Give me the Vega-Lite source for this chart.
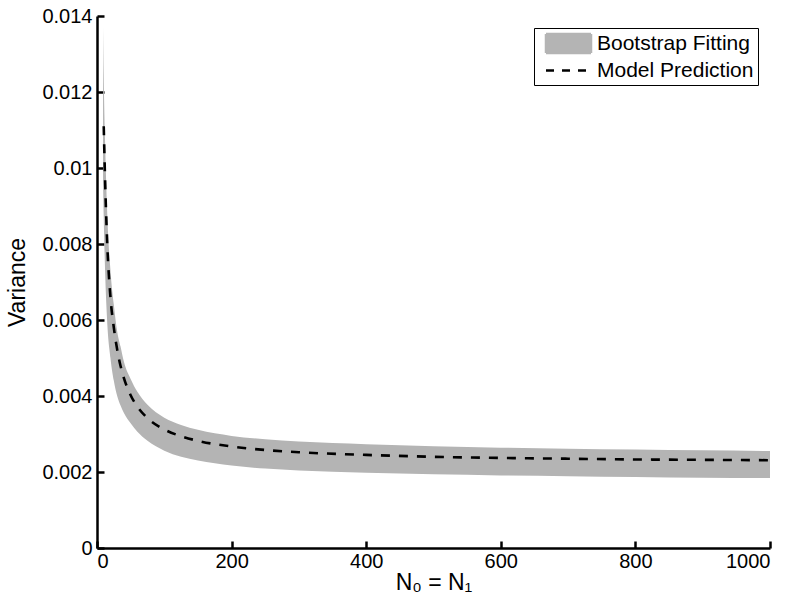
{
  "$schema": "https://vega.github.io/schema/vega-lite/v6.json",
  "width": 673,
  "height": 532,
  "autosize": "none",
  "padding": {"left": 97, "top": 16, "right": 30, "bottom": 63},
  "background": "white",
  "config": {
    "view": {"stroke": null},
    "font": "Liberation Sans",
    "axis": {
      "grid": false,
      "zindex": 1,
      "domainColor": "black",
      "domainWidth": 2.5,
      "tickColor": "black",
      "tickWidth": 2.5,
      "tickSize": -7,
      "labelColor": "black",
      "titleColor": "black",
      "labelFont": "Liberation Sans",
      "titleFont": "Liberation Sans",
      "labelFontSize": 20,
      "titleFontWeight": "normal"
    },
    "legend": {
      "title": null,
      "orient": "top-right",
      "offset": 12,
      "strokeColor": "black",
      "fillColor": "white",
      "padding": 4,
      "symbolSize": 400,
      "symbolOffset": 19,
      "labelOffset": 17,
      "rowPadding": 1,
      "labelFontSize": 21,
      "labelFont": "Liberation Sans",
      "labelColor": "black"
    }
  },
  "data": {
    "values": [
      {"N": 9, "upper": 0.0137, "lower": 0.0096, "model": null},
      {"N": 10, "upper": 0.0124, "lower": 0.0087, "model": 0.0111},
      {"N": 12, "upper": 0.0107, "lower": 0.0073, "model": 0.0097},
      {"N": 15, "upper": 0.0089, "lower": 0.0060, "model": 0.0081},
      {"N": 20, "upper": 0.0073, "lower": 0.0050, "model": 0.0066},
      {"N": 25, "upper": 0.0064, "lower": 0.0044, "model": 0.0058},
      {"N": 30, "upper": 0.0057, "lower": 0.0040, "model": 0.00522},
      {"N": 35, "upper": 0.0053, "lower": 0.00375, "model": 0.00479},
      {"N": 40, "upper": 0.0049, "lower": 0.00355, "model": 0.00447},
      {"N": 50, "upper": 0.00445, "lower": 0.00328, "model": 0.00402},
      {"N": 60, "upper": 0.00411, "lower": 0.00306, "model": 0.00372},
      {"N": 75, "upper": 0.00377, "lower": 0.00282, "model": 0.00342},
      {"N": 100, "upper": 0.00343, "lower": 0.00256, "model": 0.00312},
      {"N": 125, "upper": 0.00324, "lower": 0.0024, "model": 0.00294},
      {"N": 150, "upper": 0.00311, "lower": 0.0023, "model": 0.00282},
      {"N": 200, "upper": 0.00295, "lower": 0.00217, "model": 0.00267},
      {"N": 250, "upper": 0.00286, "lower": 0.00209, "model": 0.00258},
      {"N": 300, "upper": 0.0028, "lower": 0.00204, "model": 0.00252},
      {"N": 400, "upper": 0.00273, "lower": 0.00198, "model": 0.00245},
      {"N": 500, "upper": 0.00268, "lower": 0.00194, "model": 0.0024},
      {"N": 600, "upper": 0.00264, "lower": 0.00191, "model": 0.00237},
      {"N": 700, "upper": 0.00261, "lower": 0.00189, "model": 0.00235},
      {"N": 800, "upper": 0.00259, "lower": 0.00187, "model": 0.00233},
      {"N": 900, "upper": 0.00257, "lower": 0.00185, "model": 0.00232},
      {"N": 1000, "upper": 0.00255, "lower": 0.00184, "model": 0.00231}
    ]
  },
  "encoding": {
    "x": {
      "field": "N",
      "type": "quantitative",
      "scale": {"domain": [0, 1000], "nice": false},
      "axis": {
        "values": [0, 200, 400, 600, 800, 1000],
        "format": "d",
        "title": "N₀ = N₁",
        "titleFontSize": 23,
        "labelPadding": 10,
        "titlePadding": 0
      }
    }
  },
  "layer": [
    {
      "mark": {"type": "area", "interpolate": "monotone", "opacity": 1},
      "encoding": {
        "y": {
          "field": "upper",
          "type": "quantitative",
          "scale": {"domain": [0, 0.014], "nice": false},
          "axis": {
            "values": [0, 0.002, 0.004, 0.006, 0.008, 0.01, 0.012, 0.014],
            "format": "~g",
            "title": "Variance",
            "titleFontSize": 23,
            "labelPadding": 12,
            "titlePadding": 12
          }
        },
        "y2": {"field": "lower"},
        "color": {
          "datum": "Bootstrap Fitting",
          "type": "nominal",
          "scale": {"domain": ["Bootstrap Fitting", "Model Prediction"], "range": ["#b4b4b4", "#000000"]},
          "legend": {
            "encode": {
              "symbols": {
                "update": {
                  "shape": {"signal": "datum.value === 'Bootstrap Fitting' ? 'M-2.25,-0.95H2.25V0.95H-2.25Z' : 'M-2.25,0H2.25'"},
                  "fill": {"signal": "datum.value === 'Bootstrap Fitting' ? '#b4b4b4' : 'transparent'"},
                  "stroke": {"signal": "datum.value === 'Bootstrap Fitting' ? 'transparent' : 'black'"},
                  "strokeDash": {"signal": "datum.value === 'Bootstrap Fitting' ? [1, 0] : [8, 8]"},
                  "strokeWidth": {"value": 2.5},
                  "opacity": {"value": 1}
                }
              }
            }
          }
        }
      }
    },
    {
      "mark": {"type": "line", "interpolate": "monotone", "strokeDash": [9, 9], "strokeWidth": 2.6},
      "encoding": {
        "y": {"field": "model", "type": "quantitative"},
        "color": {
          "datum": "Model Prediction",
          "type": "nominal",
          "legend": {
            "encode": {
              "symbols": {
                "update": {
                  "shape": {"signal": "datum.value === 'Bootstrap Fitting' ? 'M-2.25,-0.95H2.25V0.95H-2.25Z' : 'M-2.25,0H2.25'"},
                  "fill": {"signal": "datum.value === 'Bootstrap Fitting' ? '#b4b4b4' : 'transparent'"},
                  "stroke": {"signal": "datum.value === 'Bootstrap Fitting' ? 'transparent' : 'black'"},
                  "strokeDash": {"signal": "datum.value === 'Bootstrap Fitting' ? [1, 0] : [8, 8]"},
                  "strokeWidth": {"value": 2.5},
                  "opacity": {"value": 1}
                }
              }
            }
          }
        }
      }
    }
  ]
}
